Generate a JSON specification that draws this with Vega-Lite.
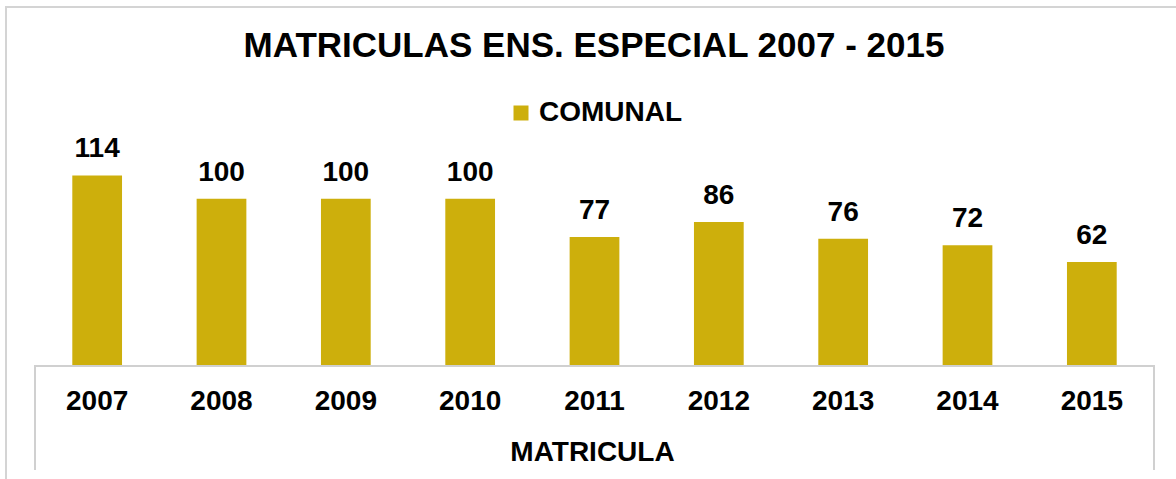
{
  "$schema": "https://vega.github.io/schema/vega-lite/v6.json",
  "width": 1172,
  "height": 474,
  "autosize": {"type": "none"},
  "padding": {"left": 6, "top": 7, "right": -2, "bottom": -2},
  "config": {
    "view": {"stroke": "#D4D4D4", "strokeWidth": 2},
    "font": "Liberation Sans"
  },
  "title": {
    "text": "MATRICULAS ENS. ESPECIAL 2007 - 2015",
    "fontSize": 35,
    "fontWeight": "bold",
    "color": "#000000",
    "anchor": "middle",
    "baseline": "alphabetic",
    "offset": -85,
    "dx": 2,
    "font": "Liberation Sans"
  },
  "data": {
    "values": [
      {"year": "2007", "value": 114, "serie": "COMUNAL"},
      {"year": "2008", "value": 100, "serie": "COMUNAL"},
      {"year": "2009", "value": 100, "serie": "COMUNAL"},
      {"year": "2010", "value": 100, "serie": "COMUNAL"},
      {"year": "2011", "value": 77, "serie": "COMUNAL"},
      {"year": "2012", "value": 86, "serie": "COMUNAL"},
      {"year": "2013", "value": 76, "serie": "COMUNAL"},
      {"year": "2014", "value": 72, "serie": "COMUNAL"},
      {"year": "2015", "value": 62, "serie": "COMUNAL"}
    ]
  },
  "encoding": {
    "x": {
      "field": "year",
      "type": "nominal",
      "scale": {"paddingInner": 0, "paddingOuter": 0.2131, "align": 0.5472},
      "axis": {
        "orient": "bottom",
        "offset": -116,
        "domain": false,
        "ticks": false,
        "grid": false,
        "labelAngle": 0,
        "labelFontSize": 28,
        "labelFontWeight": "bold",
        "labelColor": "#000000",
        "labelFont": "Liberation Sans",
        "labelPadding": 22,
        "title": "MATRICULA",
        "titleFontSize": 28,
        "titleFontWeight": "bold",
        "titleColor": "#000000",
        "titleFont": "Liberation Sans",
        "titlePadding": 23
      }
    }
  },
  "layer": [
    {
      "mark": {"type": "bar", "width": {"band": 0.4}},
      "encoding": {
        "y": {
          "field": "value",
          "type": "quantitative",
          "stack": null,
          "scale": {"domain": [-69.75, 215.3], "nice": false, "zero": false},
          "axis": null
        },
        "y2": {"datum": 0},
        "color": {
          "field": "serie",
          "type": "nominal",
          "scale": {"range": ["#CDAF0C"]},
          "legend": {
            "title": null,
            "orient": "none",
            "legendX": 501,
            "legendY": 92,
            "symbolType": "square",
            "symbolSize": 225,
            "symbolStrokeWidth": 0,
            "labelFontSize": 28,
            "labelFontWeight": "bold",
            "labelColor": "#000000",
            "labelFont": "Liberation Sans",
            "labelOffset": 4,
            "padding": 0
          }
        }
      }
    },
    {
      "mark": {"type": "text", "dy": -18, "fontSize": 28, "fontWeight": "bold", "baseline": "alphabetic", "color": "#000000", "font": "Liberation Sans"},
      "encoding": {
        "y": {"field": "value", "type": "quantitative"},
        "text": {"field": "value", "type": "quantitative"}
      }
    },
    {
      "mark": {"type": "rule", "color": "#D0D0D0", "strokeWidth": 2},
      "encoding": {
        "x": {"datum": "2007", "type": "nominal", "bandPosition": 0},
        "x2": {"datum": "2015", "bandPosition": 1},
        "y": {"datum": -0.6, "type": "quantitative"}
      }
    },
    {
      "mark": {"type": "rule", "color": "#D0D0D0", "strokeWidth": 2},
      "encoding": {
        "x": {"datum": "2007", "type": "nominal", "bandPosition": 0},
        "y": {"datum": 0, "type": "quantitative"},
        "y2": {"datum": -63.1}
      }
    },
    {
      "mark": {"type": "rule", "color": "#D0D0D0", "strokeWidth": 2},
      "encoding": {
        "x": {"datum": "2015", "type": "nominal", "bandPosition": 1},
        "y": {"datum": 0, "type": "quantitative"},
        "y2": {"datum": -63.1}
      }
    }
  ]
}
